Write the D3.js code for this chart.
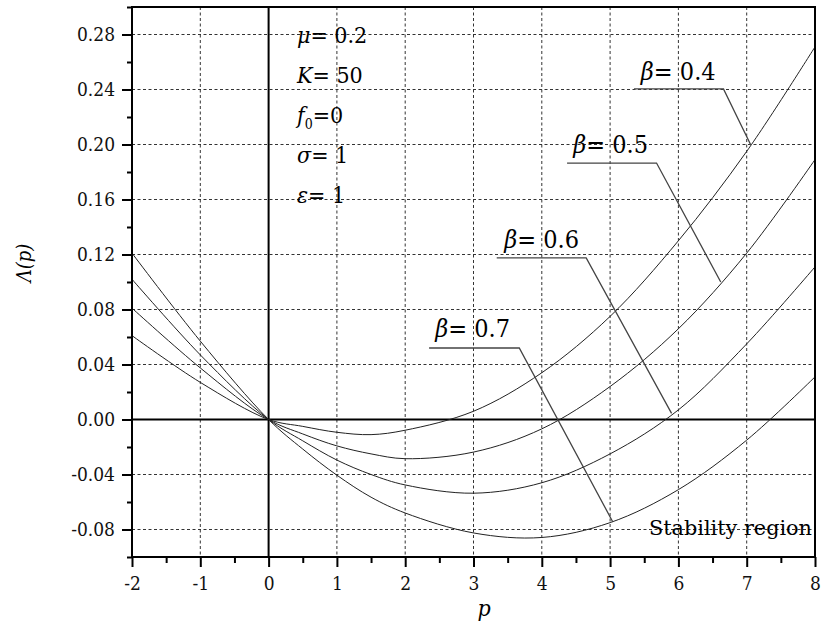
<!DOCTYPE html>
<html>
<head>
<meta charset="utf-8">
<script src="https://cdn.jsdelivr.net/npm/d3@7"></script>
<style>
  body { margin: 0; background: #fff; }
</style>
</head>
<body>
<svg id="chart" width="821" height="635"></svg>
<script>
// values
const pValues = [-2, -1, 0, 0.5, 1, 1.5, 2, 3, 4, 5, 6, 7, 8]
const beta04 = [0.061, 0.027, 0, -0.005, -0.0093, -0.011, -0.0078, 0.006, 0.034, 0.075, 0.130, 0.195, 0.271]
const beta05 = [0.081, 0.0375, 0, -0.0105, -0.0192, -0.0250, -0.0285, -0.0237, -0.0068, 0.024, 0.066, 0.121, 0.189]
const beta06 = [0.102, 0.047, 0, -0.0155, -0.0295, -0.0400, -0.0476, -0.0536, -0.046, -0.025, 0.007, 0.055, 0.111]
const beta07 = [0.121, 0.057, 0, -0.0215, -0.0405, -0.0565, -0.068, -0.0825, -0.0858, -0.075, -0.051, -0.015, 0.031]
const seriesNames = ["0.4", "0.5", "0.6", "0.7"]
const xTicks = [-2, -1, 0, 1, 2, 3, 4, 5, 6, 7, 8]
const yTicks = [-0.08, -0.04, 0.00, 0.04, 0.08, 0.12, 0.16, 0.20, 0.24, 0.28]
const params = [["μ", "", "= 0.2"], ["K", "", "= 50"], ["f", "0", "=0"], ["σ", "", "= 1"], ["ε", "", "= 1"]]

const svg = d3.select("#chart")
const plotLeft = 132, plotRight = 815, plotTop = 7, plotBottom = 557
const serif = "DejaVu Serif Condensed, DejaVu Serif"

const x = d3.scaleLinear().domain([-2, 8]).range([plotLeft, plotRight])
const y = d3.scaleLinear().domain([-0.10, 0.30]).range([plotBottom, plotTop])

// grid
const grid = svg.append("g")
grid.selectAll(".gx")
    .data(xTicks.filter(d => d != -2 && d != 8 && d != 0))
    .enter().append("line")
    .attr("x1", d => x(d)).attr("x2", d => x(d))
    .attr("y1", plotTop).attr("y2", plotBottom)
    .attr("stroke", "#333").attr("stroke-width", 1).attr("stroke-dasharray", "3,2.5")
grid.selectAll(".gy")
    .data(yTicks.filter(d => d != 0))
    .enter().append("line")
    .attr("x1", plotLeft).attr("x2", plotRight)
    .attr("y1", d => y(d)).attr("y2", d => y(d))
    .attr("stroke", "#333").attr("stroke-width", 1).attr("stroke-dasharray", "3,2.5")

// zero lines
svg.append("line")
    .attr("x1", plotLeft).attr("x2", plotRight).attr("y1", y(0)).attr("y2", y(0))
    .attr("stroke", "#000").attr("stroke-width", 2)
svg.append("line")
    .attr("x1", x(0)).attr("x2", x(0)).attr("y1", plotTop).attr("y2", plotBottom)
    .attr("stroke", "#000").attr("stroke-width", 2)

// curves
const allSeries = [beta04, beta05, beta06, beta07]
const line = d3.line()
    .x(d => x(d[0]))
    .y(d => y(d[1]))
    .curve(d3.curveCatmullRom.alpha(0.5))

svg.append("g").selectAll("path")
    .data(allSeries)
    .enter().append("path")
    .attr("d", s => line(pValues.map((p, i) => [p, s[i]])))
    .attr("fill", "none")
    .attr("stroke", "#222")
    .attr("stroke-width", 1)

// axes
const minorX = d3.range(-2, 8.01, 0.5).filter(d => !Number.isInteger(d))
const minorY = d3.range(-0.10, 0.301, 0.02).map(d => +d.toFixed(2)).filter(d => !yTicks.some(t => Math.abs(t - d) < 1e-6))
const fmtY = d => d3.format(".2f")(d).replace("−", "-")
const fmtX = d => String(d)

const xAxis = svg.append("g").attr("transform", `translate(0,${plotBottom})`)
xAxis.append("g").call(d3.axisBottom(x).tickValues(minorX).tickSize(6).tickFormat(""))
xAxis.append("g").call(d3.axisBottom(x).tickValues(xTicks).tickSize(10).tickPadding(10).tickFormat(fmtX))

const yAxis = svg.append("g").attr("transform", `translate(${plotLeft},0)`)
yAxis.append("g").call(d3.axisLeft(y).tickValues(minorY).tickSize(5).tickFormat(""))
yAxis.append("g").call(d3.axisLeft(y).tickValues(yTicks).tickSize(10).tickPadding(7).tickFormat(fmtY))

svg.selectAll(".domain").remove()
svg.selectAll(".tick line").attr("stroke", "#000").attr("stroke-width", 2)
svg.selectAll(".tick text")
    .attr("font-family", serif)
    .attr("font-size", 19)
    .attr("fill", "#111")

// frame
svg.append("rect")
    .attr("x", plotLeft).attr("y", plotTop)
    .attr("width", plotRight - plotLeft).attr("height", plotBottom - plotTop)
    .attr("fill", "none").attr("stroke", "#000").attr("stroke-width", 2)

// axis titles
svg.append("text")
    .attr("x", 484).attr("y", 616)
    .attr("text-anchor", "middle")
    .attr("font-family", serif)
    .attr("font-size", 23).attr("font-style", "italic")
    .text("p")

svg.append("text")
    .attr("transform", "translate(31,263) rotate(-90)")
    .attr("text-anchor", "middle")
    .attr("font-family", serif)
    .attr("font-size", 20).attr("font-style", "italic")
    .text("Λ(p)")

// parameter block
const pTexts = svg.append("g").selectAll("text")
    .data(params)
    .enter().append("text")
    .attr("x", 297)
    .attr("y", (d, i) => 43 + i * 40)
    .attr("font-family", serif)
    .attr("font-size", 23)
pTexts.append("tspan").attr("font-style", "italic").text(d => d[0])
pTexts.filter(d => d[1] != "").append("tspan")
    .attr("font-size", 14).attr("dy", 6).text(d => d[1])
pTexts.append("tspan")
    .attr("dy", d => d[1] != "" ? -6 : 0)
    .text(d => d[2])

// beta labels with leader lines (data coords)
const notes = [
    { name: seriesNames[0], tx: 5.45, ty: 0.247, u0: 5.35, u1: 6.66, uy: 0.2404, px: 7.06, py: 0.1996 },
    { name: seriesNames[1], tx: 4.46, ty: 0.194, u0: 4.37, u1: 5.68, uy: 0.1865, px: 6.62, py: 0.100 },
    { name: seriesNames[2], tx: 3.45, ty: 0.125, u0: 3.34, u1: 4.65, uy: 0.1175, px: 5.90, py: 0.0045 },
    { name: seriesNames[3], tx: 2.44, ty: 0.0603, u0: 2.35, u1: 3.67, uy: 0.052, px: 5.04, py: -0.0745 }
]

const ng = svg.append("g").selectAll("g").data(notes).enter().append("g")
ng.append("polyline")
    .attr("points", d => [[x(d.u0), y(d.uy)], [x(d.u1), y(d.uy)], [x(d.px), y(d.py)]].map(q => q.join(",")).join(" "))
    .attr("fill", "none").attr("stroke", "#444").attr("stroke-width", 1.3)
const nt = ng.append("text")
    .attr("x", d => x(d.tx)).attr("y", d => y(d.ty))
    .attr("font-family", serif)
    .attr("font-size", 25)
nt.append("tspan").attr("font-style", "italic").text("β")
nt.append("tspan").text(d => "= " + d.name)

svg.append("text")
    .attr("x", 812).attr("y", 535)
    .attr("text-anchor", "end")
    .attr("font-family", serif)
    .attr("font-size", 21)
    .attr("textLength", 163)
    .attr("lengthAdjust", "spacingAndGlyphs")
    .text("Stability region")
</script>
</body>
</html>
